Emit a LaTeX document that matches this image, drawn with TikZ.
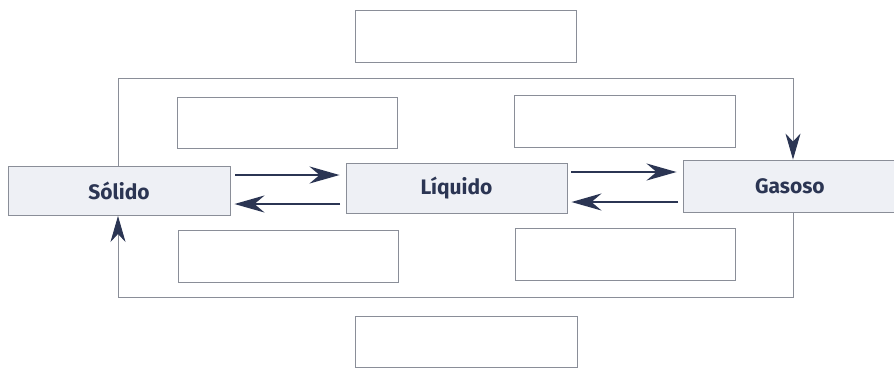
\documentclass[tikz,border=0pt]{standalone}
\usepackage{fontspec}
\setmainfont{Fira Sans}
\usetikzlibrary{arrows.meta}
\definecolor{navy}{HTML}{2B3553}
\definecolor{boxfill}{HTML}{EEF0F5}
\definecolor{edge}{HTML}{8A8E98}
\tikzset{
  emptybox/.style={draw=edge, line width=0.9pt, fill=white, rectangle, inner sep=0pt},
  statebox/.style={draw=edge, line width=0.9pt, fill=boxfill, rectangle, inner sep=0pt,
    font=\fontsize{21}{25}\selectfont\bfseries, text=navy},
  flow/.style={draw=navy, line width=2.6pt, -{Stealth[length=30pt,width=17pt,inset=10pt]}},
  looparrow/.style={draw=edge, line width=0.9pt, -{Stealth[length=26pt,width=15pt,inset=8pt,color=navy,fill=navy]}}
}
\begin{document}
\begin{tikzpicture}[x=1pt,y=-1pt]
\useasboundingbox (0,0) rectangle (894,368);
\fill[white] (0,0) rectangle (894,368);
% empty boxes
\node[emptybox, minimum width=221pt, minimum height=52pt] (top) at (465.5,36) {};
\node[emptybox, minimum width=222pt, minimum height=51pt] (bot) at (466,341.5) {};
\node[emptybox, minimum width=220pt, minimum height=51pt] (ul) at (287,122.5) {};
\node[emptybox, minimum width=221pt, minimum height=52pt] (ur) at (624.5,121) {};
\node[emptybox, minimum width=220pt, minimum height=52pt] (ll) at (288,256) {};
\node[emptybox, minimum width=220pt, minimum height=52pt] (lr) at (625,254) {};
% state boxes
\node[statebox, minimum width=222pt, minimum height=49pt] (sol) at (119,191) {Sólido};
\node[statebox, minimum width=221pt, minimum height=50pt] (liq) at (456.5,188) {Líquido};
\node[statebox, minimum width=216pt, minimum height=52pt, text width=216pt, align=left] (gas) at (791,186) {\hspace{72pt}Gasoso};
% coordinates for loops
\coordinate (t1) at (118,78);
\coordinate (t2) at (793,78);
\coordinate (b1) at (793,297);
\coordinate (b2) at (118,297);
\draw[looparrow] (sol.north -| t1) -- (t1) -- (t2) -- (gas.north -| t2);
\draw[looparrow] (gas.south -| b1) -- (b1) -- (b2) -- (sol.south -| b2);
% flow arrows
\coordinate (a1) at (235,175);
\coordinate (a2) at (340,204);
\coordinate (a3) at (571,172);
\coordinate (a4) at (678,202);
\draw[flow] (a1) -- ([xshift=-6pt]a1 -| liq.west);
\draw[flow] (a2) -- ([xshift=4pt]a2 -| sol.east);
\draw[flow] (a3) -- ([xshift=-6pt]a3 -| gas.west);
\draw[flow] (a4) -- ([xshift=4pt]a4 -| liq.east);
\end{tikzpicture}
\end{document}
